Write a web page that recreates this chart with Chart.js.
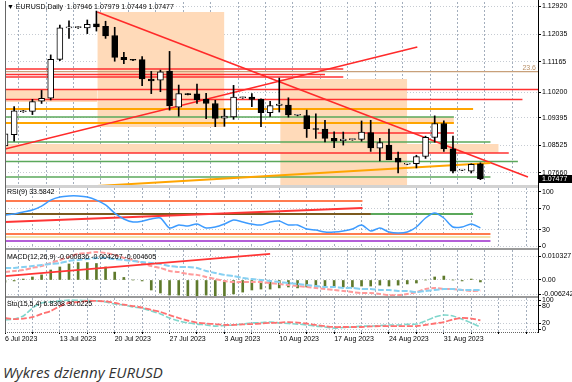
<!DOCTYPE html>
<html><head><meta charset="utf-8">
<script src="https://cdn.jsdelivr.net/npm/chart.js@4.4.0/dist/chart.umd.min.js"></script>
<style>
html,body{margin:0;padding:0;background:#fff;width:572px;height:382px;overflow:hidden;}
.pane{position:absolute;left:0;width:572px;}
canvas{display:block;}
.hdr{position:absolute;left:7px;font:7px "Liberation Sans","DejaVu Sans",sans-serif;line-height:8px;color:#000;white-space:nowrap;z-index:5;}
.sep{position:absolute;left:5px;width:533px;z-index:4;}
#caption{position:absolute;left:3px;top:363px;font:italic 15px "Open Sans",sans-serif;line-height:19px;color:#333;}
</style></head><body>
<div class="pane" style="top:2px;height:183px"><canvas id="cMain" width="572" height="183"></canvas></div>
<div class="pane" style="top:188px;height:60px"><canvas id="cRsi" width="572" height="60"></canvas></div>
<div class="pane" style="top:250px;height:46px"><canvas id="cMacd" width="572" height="46"></canvas></div>
<div class="pane" style="top:290px;height:56px;z-index:2"><canvas id="cSto" width="572" height="56"></canvas></div>
<div class="sep" style="top:185px;height:3px;background:#d2d2d2"></div>
<div class="sep" style="top:248px;height:2px;background:#9a9a9a"></div>
<div class="sep" style="top:296px;height:2px;background:#9a9a9a"></div>
<div class="sep" style="top:332px;height:0;border-top:1px dotted #666"></div>
<div style="position:absolute;left:5px;top:1px;width:1px;height:331px;background:#666;z-index:4"></div>
<div style="position:absolute;left:538px;top:0px;width:1px;height:333px;background:#000;z-index:4"></div>
<div class="hdr" style="top:3px">&#9660; EURUSD,Daily&nbsp; 1.07946 1.07979 1.07449 1.07477</div>
<div class="hdr" style="top:188px">RSI(9) 33.5842</div>
<div class="hdr" style="top:253px">MACD(12,26,9) -0.000836 -0.004267 -0.004605</div>
<div class="hdr" style="top:300px">Sto(15,5,4) 6.8308 30.0225</div>
<div id="caption">Wykres dzienny EURUSD</div>
<script>
// ---------------- DATA ----------------
const dates = ['2023-07-06','2023-07-07','2023-07-09','2023-07-10','2023-07-11','2023-07-12','2023-07-13','2023-07-14','2023-07-16','2023-07-17','2023-07-18','2023-07-19','2023-07-20','2023-07-21','2023-07-23','2023-07-24','2023-07-25','2023-07-26','2023-07-27','2023-07-28','2023-07-30','2023-07-31','2023-08-01','2023-08-02','2023-08-03','2023-08-04','2023-08-06','2023-08-07','2023-08-08','2023-08-09','2023-08-10','2023-08-11','2023-08-13','2023-08-14','2023-08-15','2023-08-16','2023-08-17','2023-08-18','2023-08-20','2023-08-21','2023-08-22','2023-08-23','2023-08-24','2023-08-25','2023-08-27','2023-08-28','2023-08-29','2023-08-30','2023-08-31','2023-09-01','2023-09-03','2023-09-04','2023-09-05'];
const dateTickLabels = ['6 Jul 2023','13 Jul 2023','20 Jul 2023','27 Jul 2023','3 Aug 2023','10 Aug 2023','17 Aug 2023','24 Aug 2023','31 Aug 2023'];
const priceTicks = [1.12920,1.12035,1.11165,1.10200,1.09395,1.08525,1.07660];
const rsiTicks = [100,70,30,0];
const macdTicks = [0.010327,0,-0.006242];
const macdTickLabels = ['0.010327','0.00','-0.006242'];
const stoTicks = [100,80,20,0];

const open  = [1.0851,1.0887,1.0959,1.0960,1.0992,1.1002,1.1124,1.1223,1.1224,1.1223,1.1236,1.1228,1.1199,1.1130,1.1122,1.1123,1.1062,1.1058,1.1087,1.0973,1.1014,1.1015,1.0998,1.0985,1.0939,1.0943,1.1003,1.1005,1.0998,1.0956,1.0979,1.0980,1.0948,1.0947,1.0905,1.0904,1.0875,1.0868,1.0871,1.0872,1.0893,1.0844,1.0854,1.0813,1.0794,1.0795,1.0818,1.0878,1.0922,1.0842,1.0775,1.0772,1.07946];
const high  = [1.0934,1.0975,1.0963,1.0998,1.1026,1.1138,1.1232,1.1245,1.1227,1.1248,1.1276,1.1244,1.1225,1.1146,1.1124,1.1133,1.1086,1.1090,1.1149,1.1043,1.1016,1.1046,1.1017,1.0995,1.0967,1.1042,1.1005,1.1016,1.1000,1.0992,1.1065,1.1003,1.0950,1.0964,1.0952,1.0932,1.0896,1.0895,1.0873,1.0930,1.0932,1.0875,1.0904,1.0832,1.0796,1.0822,1.0882,1.0946,1.0930,1.0882,1.0777,1.0795,1.07979];
const low   = [1.0834,1.0866,1.0957,1.0950,1.0985,1.0996,1.1120,1.1190,1.1221,1.1205,1.1213,1.1190,1.1118,1.1110,1.1120,1.1041,1.1016,1.1022,1.0964,1.0945,1.1012,1.0985,1.0937,1.0912,1.0913,1.0935,1.1001,1.0975,1.0912,1.0944,1.0958,1.0942,1.0946,1.0878,1.0875,1.0864,1.0846,1.0854,1.0869,1.0866,1.0834,1.0804,1.0826,1.0766,1.0792,1.0782,1.0812,1.0863,1.0834,1.0766,1.0773,1.0766,1.07449];
const close = [1.0889,1.0962,1.0961,1.0991,1.1001,1.1124,1.1223,1.1226,1.1225,1.1234,1.1226,1.1198,1.1130,1.1123,1.1121,1.1062,1.1056,1.1085,1.0977,1.1016,1.1013,1.0996,1.0985,1.0938,1.0945,1.1005,1.1003,1.0998,1.0956,1.0978,1.0983,1.0949,1.0948,1.0906,1.0903,1.0875,1.0866,1.0873,1.0872,1.0895,1.0845,1.0862,1.0807,1.0800,1.0795,1.0818,1.0878,1.0922,1.0842,1.0772,1.0776,1.0793,1.07477];

// horizontal levels: [price, fromBar, toBar]
const redLevels    = [[1.10936,0,37],[1.10762,0,35],[1.10684,0,37],[1.10290,0,58.3],[1.09975,0,56.6],[1.08920,34.2,49.1],[1.08290,0,55.1]];
const orangeLevels = [[1.09676,0,51.2],[1.09235,0,49.1]];
const greenLevels  = [[1.09424,0,49.1],[1.08636,0,53.1],[1.08022,0,56.1],[1.07534,0,53.1]];
const fibLevel = 1.10851;
// trend lines: [fromBar, fromPrice, toBar, toPrice]
const redTrends    = [[10.1,1.12731,57.2,1.07534],[0,1.08416,45.1,1.11629]];
const orangeTrends = [[8.2,1.07219,53.1,1.07975]];
// zones: [fromBar, toBar, upperPrice, lowerPrice]
const zones = [[10.1,24.0,1.12731,1.09109],[0,10.1,1.10300,1.09900],[30.1,44.0,1.10620,1.07282],[0,54.0,1.08573,1.08290],[44.0,49.1,1.09424,1.09235]];

const rsi = [57.4,59.3,63,66.7,74,85,90.7,92.6,92.6,90.7,85,76,61,50,44.4,46,50,51.9,33.3,38.9,37,40.7,33.3,35.2,40.7,48,44.4,40.7,38.9,44.4,46.3,38.9,38.9,31.5,29.6,25.9,25.9,27.8,31.5,38.9,27.8,33.3,25.9,24,25.9,35.2,51.9,61.1,51.9,35.2,35.2,40.7,33.58];
// RSI pane objects: [value, fromBar, toBar]
const rsiCoral  = [[83.3,0,39.1],[22.2,0,53.1]];
const rsiGreen  = [[59.3,0,51.2]];
const rsiBrown  = [[59.3,0,40.0]];
const rsiPale   = [[16.7,0,53.1]];
const rsiPurple = [[9.3,0,53.1]];
const rsiTrend  = [[0,44.4,39.1,70.4]];

const macdHist = [-0.0009,-0.0004,0.0004,0.0013,0.0022,0.0043,0.0056,0.0069,0.0075,0.0075,0.0071,0.0056,0.0034,0.0011,0.0000,-0.0004,-0.0043,-0.0056,-0.0065,-0.0065,-0.0069,-0.0069,-0.0065,-0.0069,-0.0073,-0.0060,-0.0052,-0.0043,-0.0039,-0.0039,-0.0034,-0.0030,-0.0034,-0.0030,-0.0030,-0.0030,-0.0030,-0.0030,-0.0030,-0.0026,-0.0026,-0.0022,-0.0026,-0.0022,-0.0017,-0.0013,0.0000,0.0013,0.0017,0.0000,-0.0004,0.0004,-0.000836];
const macdMain = [0.0052,0.0052,0.0056,0.0060,0.0065,0.0069,0.0073,0.0082,0.0086,0.0090,0.0095,0.0095,0.0090,0.0086,0.0082,0.0077,0.0073,0.0069,0.0060,0.0056,0.0056,0.0052,0.0039,0.0030,0.0022,0.0017,0.0009,0.0004,0.0000,-0.0004,-0.0009,-0.0013,-0.0017,-0.0022,-0.0026,-0.0030,-0.0030,-0.0034,-0.0034,-0.0039,-0.0039,-0.0043,-0.0043,-0.0047,-0.0047,-0.0052,-0.0047,-0.0043,-0.0039,-0.0039,-0.0043,-0.0043,-0.004267];
const macdSignal = [0.0034,0.0039,0.0043,0.0052,0.0060,0.0073,0.0086,0.0099,0.0112,0.0116,0.0120,0.0116,0.0108,0.0095,0.0086,0.0073,0.0060,0.0052,0.0039,0.0034,0.0026,0.0022,0.0013,0.0004,-0.0004,-0.0009,-0.0009,-0.0009,-0.0009,-0.0013,-0.0017,-0.0022,-0.0026,-0.0030,-0.0034,-0.0039,-0.0043,-0.0047,-0.0052,-0.0056,-0.0056,-0.0060,-0.0065,-0.0065,-0.0060,-0.0052,-0.0039,-0.0034,-0.0039,-0.0039,-0.0043,-0.0047,-0.004605];
const macdTrend = [[0,0.0017,29.0,0.0112]];

const stoMain = [31,34,45,72,90,93,97,100,99,98,97,93,86,83,76,72,62,52,38,28,21,17,14,10,12,14,17,21,22,24,21,19,17,14,10,7,3,5,7,10,10,12,14,14,16,17,28,41,48,45,34,21,6.83];
const stoSignal = [38,34,36,41,52,62,79,90,93,97,97,95,90,84,79,74,66,59,48,38,29,22,19,17,14,14,16,17,19,21,22,24,22,19,14,10,7,7,7,7,9,10,10,10,10,10,14,19,24,33,38,36,30.02];

// ---------------- LAYOUT CONSTANTS ----------------
const X_MAX = 58.3;
const gridBars = []; for (let v = 0; v <= 57; v += 3) gridBars.push(v);
const FONT = {family:'Liberation Sans', size:7};

function xAxis(showLabels){
  return {
    type:'linear', min:0, max:X_MAX, offset:false,
    afterBuildTicks: s => { s.ticks = gridBars.map(v => ({value:v})); },
    ticks:{display:showLabels, autoSkip:false, maxRotation:0, minRotation:0, align:'start', padding:1, color:'#000', font:FONT,
      callback: v => (v % 6 === 0 ? (dateTickLabels[v/6] || '') : '')},
    grid:{color:'#A3AEBD', drawTicks:showLabels, tickLength:2, tickColor:'#000'},
    border:{display:false, dash:[2,2]},
    afterFit: s => { s.height = showLabels ? 14 : 0; s.paddingLeft = 0; s.paddingRight = 0; }
  };
}
function yAxis(min, max, tickVals, fmt){
  return {
    type:'linear', position:'right', min, max,
    afterBuildTicks: s => { s.ticks = tickVals.map(v => ({value:v})); },
    afterFit: s => { s.width = 34; s.paddingTop = 0; s.paddingBottom = 0; },
    ticks:{color:'#000', font:FONT, padding:1, autoSkip:false, callback: fmt},
    grid:{color:'#C6CBD2', tickColor:'#000', tickLength:3},
    border:{display:true, color:'#000', dash:[1,2]}
  };
}
function seg(x0,y0,x1,y1,color,w,order,dash){
  return {type:'line', data:[{x:x0,y:y0},{x:x1,y:y1}], borderColor:color, borderWidth:w, borderDash:dash||[],
    pointRadius:0, fill:false, tension:0, order:order===undefined?2:order};
}
function series(vals,color,w,dash,order){
  return {type:'line', data: vals.map((v,i)=>({x:i,y:v})), borderColor:color, borderWidth:w, borderDash:dash||[],
    pointRadius:0, fill:false, tension:0.25, order:order===undefined?1:order};
}
const baseOpts = (scales, padTop) => ({
  responsive:false, animation:false, events:[], devicePixelRatio:1,
  layout:{padding:{left:5,right:0,top:padTop||0,bottom:0}},
  plugins:{legend:{display:false}, tooltip:{enabled:false}},
  scales
});

// ---------------- MAIN PANE ----------------
const pMin = 1.07282, pMax = 1.13046;
const mainSets = [];
mainSets.push({type:'bar', data: dates.map((d,i)=>({x:i, y:[open[i], close[i]]})),
  backgroundColor: dates.map((d,i)=> close[i] >= open[i] ? '#ffffff' : '#000000'),
  borderColor:'#000', borderWidth:1, borderSkipped:false, barThickness:6, minBarLength:1, grouped:false, order:0});
mainSets.push({type:'bar', data: dates.map((d,i)=>({x:i, y:[low[i], high[i]]})),
  backgroundColor:'#000', borderWidth:0, barThickness:1, grouped:false, order:1});
zones.forEach(z => mainSets.push({type:'line', data:[{x:z[0],y:z[2]},{x:z[1],y:z[2]}], borderColor:'rgba(0,0,0,0)', borderWidth:0,
  pointRadius:0, fill:{value:z[3]}, backgroundColor:'#FFDAB9', order:5}));
mainSets.push(seg(0,fibLevel,X_MAX,fibLevel,'#C8A07A',1.2,3));
greenLevels.forEach(l => mainSets.push(seg(l[1],l[0],l[2],l[0],'#5BA85B',1.3,3)));
orangeLevels.forEach(l => mainSets.push(seg(l[1],l[0],l[2],l[0],'#FFA500',2,3)));
redLevels.forEach(l => mainSets.push(seg(l[1],l[0],l[2],l[0],'#FF3030',1.6,3)));
orangeTrends.forEach(t => mainSets.push(seg(t[0],t[1],t[2],t[3],'#FFA500',2,2)));
redTrends.forEach(t => mainSets.push(seg(t[0],t[1],t[2],t[3],'#FF2A2A',1.6,2)));

const mainDecor = {id:'mainDecor', afterDraw(chart){
  const {ctx, chartArea, scales:{y}} = chart;
  const last = close[close.length-1];
  const yy = Math.round(y.getPixelForValue(last));
  ctx.save();
  ctx.fillStyle = '#000'; ctx.fillRect(chartArea.right+1, yy-4, 34, 8);
  ctx.fillStyle = '#fff'; ctx.font = '7px "Liberation Sans"'; ctx.textBaseline = 'middle'; ctx.textAlign = 'left';
  ctx.fillText(last.toFixed(5), chartArea.right+4, yy+0.5);
  const fy = y.getPixelForValue(fibLevel);
  ctx.fillStyle = '#B88F66'; ctx.textAlign = 'right'; ctx.textBaseline = 'bottom';
  ctx.fillText('23.6', chartArea.right-2, fy-0.5);
  ctx.restore();
}};

new Chart(document.getElementById('cMain'), {
  type:'bar', data:{datasets: mainSets},
  options: baseOpts({x: xAxis(false), y: yAxis(pMin, pMax, priceTicks, v => Number(v).toFixed(5))}),
  plugins:[mainDecor]
});

// ---------------- RSI PANE ----------------
const rsiSets = [series(rsi,'#3D9BFF',1.5,[],0)];
rsiTrend.forEach(t => rsiSets.push(seg(t[0],t[1],t[2],t[3],'#FF3535',1.8,1)));
rsiBrown.forEach(l => rsiSets.push(seg(l[1],l[0],l[2],l[0],'#7C5A1E',1.8,2)));
rsiGreen.forEach(l => rsiSets.push(seg(l[1],l[0],l[2],l[0],'#5BA85B',1.8,3)));
rsiCoral.forEach(l => rsiSets.push(seg(l[1],l[0],l[2],l[0],'#FF7B50',2,3)));
rsiPale.forEach(l => rsiSets.push(seg(l[1],l[0],l[2],l[0],'#F3E3AE',2,3)));
rsiPurple.forEach(l => rsiSets.push(seg(l[1],l[0],l[2],l[0],'#B45FD8',2.2,3)));
new Chart(document.getElementById('cRsi'), {
  type:'line', data:{datasets: rsiSets},
  options: baseOpts({x: xAxis(false), y: yAxis(-3.7, 107.4, rsiTicks, v => String(v))})
});

// ---------------- MACD PANE ----------------
const macdSets = [
  series(macdMain,'#86D0F2',2,[6,2],1),
  series(macdSignal,'#FF9A9A',2,[5,2],1),
  {type:'bar', data: macdHist.map((v,i)=>({x:i,y:v})), backgroundColor:'#5F7A2C', barThickness:2, grouped:false, order:2}
];
macdTrend.forEach(t => macdSets.push(seg(t[0],t[1],t[2],t[3],'#FF3535',1.8,0)));
new Chart(document.getElementById('cMacd'), {
  type:'bar', data:{datasets: macdSets},
  options: baseOpts({x: xAxis(false), y: yAxis(-0.006885, 0.012909, macdTicks, (v,i) => macdTickLabels[i])})
});

// ---------------- STOCHASTIC PANE ----------------
new Chart(document.getElementById('cSto'), {
  type:'line', data:{datasets:[
    series(stoMain,'#7FD6CC',1.6,[6,2],1),
    series(stoSignal,'#FF7070',1.8,[6,2],0)
  ]},
  options: baseOpts({x: xAxis(true), y: yAxis(-10.3, 106.9, stoTicks, v => String(v))}, 8)
});
</script>
</body></html>
